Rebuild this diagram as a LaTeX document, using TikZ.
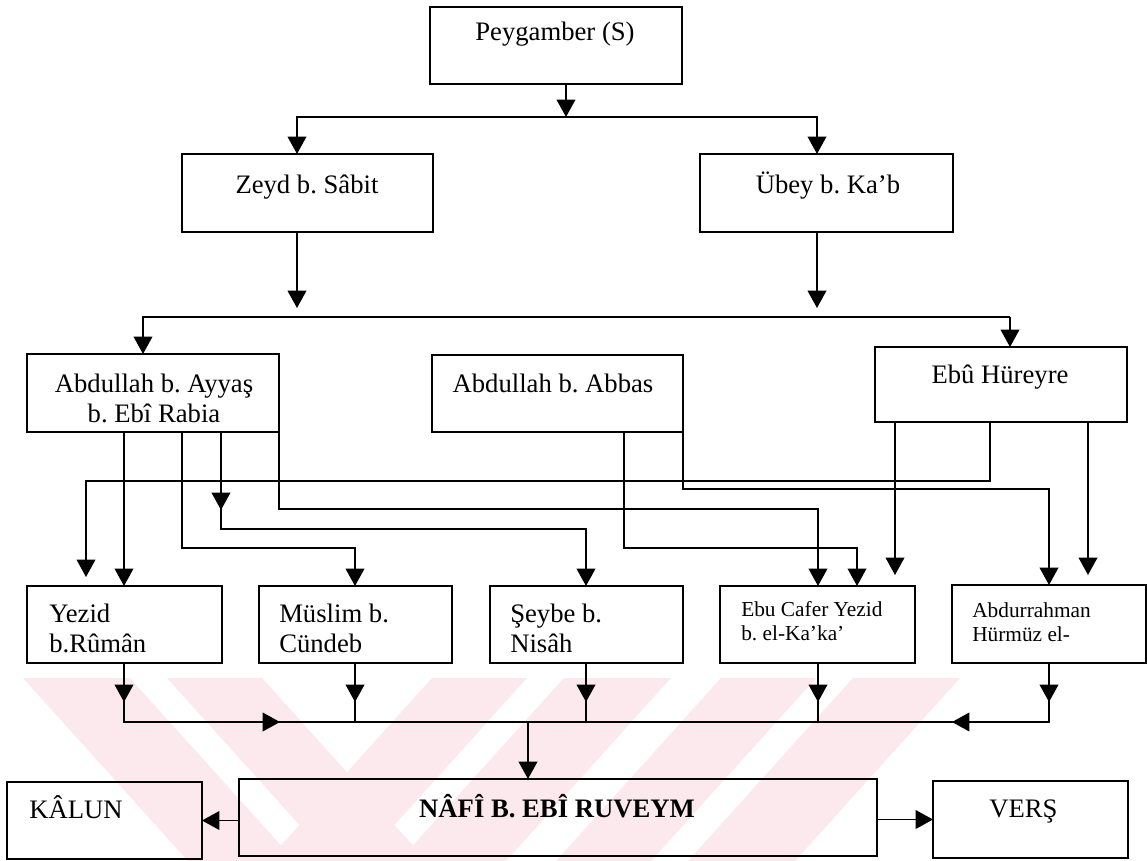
\documentclass[tikz,border=0pt]{standalone}
\usepackage{fontspec}
\setmainfont{Liberation Serif}
\usetikzlibrary{arrows.meta}
\definecolor{wmpink}{RGB}{252,233,237}
% box given by its corners (x1,y1) (x2,y2), in pixel units
\newcommand\placebox[5]{%
  \node[box, minimum width={(#4-#2)*0.75pt}, minimum height={(#5-#3)*0.75pt}]
    (#1) at ({(#2+#4)/2},{(#3+#5)/2}) {};}
\tikzset{
  box/.style={draw, line width=1.2pt, inner sep=0pt, outer sep=0pt},
  txt/.style={inner sep=0pt, font=\fontsize{20}{22.5}\selectfont},
  smalltxt/.style={inner sep=0pt, font=\fontsize{16}{18}\selectfont},
  link/.style={line width=1.2pt},
  arr/.style={link, -{Triangle[width=14pt,length=13pt]}},
}
\frenchspacing
\begin{document}
\begin{tikzpicture}[x=0.75pt,y=-0.75pt]
\useasboundingbox (0,0) rectangle (1147,861);

% faint watermark bands behind the lower part
\begin{scope}
  \clip (0,678) rectangle (1147,861);
  \foreach \a/\b in {23/130,167/262}
    \fill[wmpink] (\a,678) -- (\b,678) -- (\b+165,861) -- (\a+165,861) -- cycle;
  \foreach \a/\b in {432/527,564/671,721/816,853/960}
    \fill[wmpink] (\a,678) -- (\b,678) -- (\b-165,861) -- (\a-165,861) -- cycle;
\end{scope}

% boxes
\placebox{peyg}{430}{7}{682}{84}
\placebox{zeyd}{182}{154}{433}{232}
\placebox{uebey}{700}{154}{953}{232}
\placebox{ayyas}{27}{354}{279}{432}
\placebox{abbas}{432}{355}{683}{432}
\placebox{huer}{875}{347}{1127}{422}
\placebox{yezid}{27}{586}{222}{663}
\placebox{muslim}{259}{586}{452}{663}
\placebox{seybe}{490}{586}{683}{663}
\placebox{cafer}{720}{586}{915}{663}
\placebox{abdur}{952}{585}{1146}{663}
\placebox{kalun}{7}{782}{202}{859}
\placebox{nafi}{239}{779}{877}{856}
\placebox{vers}{933}{781}{1128}{858}

% texts (multi-line nodes are placed by the baseline of their last line)
\node[txt, anchor=base] (tpeyg) at (555,40) {Peygamber (S)};
\node[txt, anchor=base] (tzeyd) at (307,193) {Zeyd b. Sâbit};
\node[txt, anchor=base] (tuebey) at (828,193) {Übey b. Ka’b};
\node[txt, anchor=base, align=center] (tayyas) at (154,422) {Abdullah b. Ayyaş\\b. Ebî Rabia};
\node[txt, anchor=base] (tabbas) at (553,392) {Abdullah b. Abbas};
\node[txt, anchor=base] (thuer) at (1000,383) {Ebû Hüreyre};
\node[txt, anchor=base west, align=left] (tyezid) at (49,652) {Yezid\\b.Rûmân};
\node[txt, anchor=base west, align=left] (tmuslim) at (279,652) {Müslim b.\\Cündeb};
\node[txt, anchor=base west, align=left] (tseybe) at (510,652) {Şeybe b.\\Nisâh};
\node[smalltxt, anchor=base west, align=left] (tcafer) at (741,640) {Ebu Cafer Yezid\\b. el-Ka’ka’};
\node[smalltxt, anchor=base west, align=left] (tabdur) at (972,641) {Abdurrahman\\Hürmüz el-};
\node[txt, anchor=base west] (tkalun) at (29,818) {KÂLUN};
\node[txt, anchor=base, font=\fontsize{20}{24}\selectfont\bfseries] (tnafi) at (557,817) {NÂFÎ B. EBÎ RUVEYM};
\node[txt, anchor=base west] (tvers) at (989,817) {VERŞ};

% columns and rows used by the connectors
\coordinate (p1) at (566,117);
\coordinate (zc) at (297,0);
\coordinate (uc) at (817,0);
\coordinate (r308) at (0,308);
\coordinate (h2l) at (143,317);
\coordinate (h2r) at (1010,317);
\coordinate (a1) at (124,0);
\coordinate (a2) at (182,548);
\coordinate (a3) at (221,529);
\coordinate (a4) at (279,509);
\coordinate (r510) at (0,510);
\coordinate (b1) at (624,548);
\coordinate (b2) at (683,489);
\coordinate (c1) at (990,481);
\coordinate (mc) at (355,0);
\coordinate (sc) at (586,0);
\coordinate (ec1) at (818,0);
\coordinate (ec2) at (857,0);
\coordinate (ec3) at (895,0);
\coordinate (dc1) at (1049,0);
\coordinate (dc2) at (1088,0);
\coordinate (yc2) at (86,0);
\coordinate (r575) at (0,575);
\coordinate (r577) at (0,577);
\coordinate (r702) at (0,702);
\coordinate (q) at (0,722);
\coordinate (qa) at (280,722);
\coordinate (qb) at (952,722);
\coordinate (nc) at (528,722);

% Peygamber to Zeyd and Übey
\draw[arr] (peyg.south -| p1) -- (p1);
\draw[arr] (p1) -| (zeyd.north -| zc);
\draw[arr] (p1) -| (uebey.north -| uc);
\draw[arr] (zeyd.south -| zc) -- (zc |- r308);
\draw[arr] (uebey.south -| uc) -- (uc |- r308);
\draw[arr] (h2r) -- (h2l) -- (ayyas.north -| h2l);
\draw[arr] (h2r) -- (huer.north -| h2r);

% Abdullah b. Ayyaş
\draw[arr] (ayyas.south -| a1) -- (yezid.north -| a1);
\draw[arr] (ayyas.south -| a2) -- (a2) -| (muslim.north -| mc);
\draw[arr] (ayyas.south -| a3) -- (a3 |- r510);
\draw[arr] (ayyas.south -| a3) -- (a3) -| (seybe.north -| sc);
\draw[arr] (ayyas.south east) -- (a4) -| (cafer.north -| ec1);

% Abdullah b. Abbas
\draw[arr] (abbas.south -| b1) -- (b1) -| (cafer.north -| ec2);
\draw[arr] (abbas.south east) -- (b2) -| (abdur.north -| dc1);

% Ebû Hüreyre
\draw[arr] (huer.south -| ec3) -- (ec3 |- r575);
\draw[arr] (huer.south -| dc2) -- (dc2 |- r575);
\draw[arr] (huer.south -| c1) -- (c1) -| (yc2 |- r577);

% collector line into Nâfî
\draw[link] (yezid.south -| a1) -- (a1 |- q) -- (dc1 |- q) -- (abdur.south -| dc1);
\draw[link] (muslim.south -| mc) -- (mc |- q);
\draw[link] (seybe.south -| sc) -- (sc |- q);
\draw[link] (cafer.south -| ec1) -- (ec1 |- q);
\draw[arr] (yezid.south -| a1) -- (a1 |- r702);
\draw[arr] (muslim.south -| mc) -- (mc |- r702);
\draw[arr] (seybe.south -| sc) -- (sc |- r702);
\draw[arr] (cafer.south -| ec1) -- (ec1 |- r702);
\draw[arr] (abdur.south -| dc1) -- (dc1 |- r702);
\draw[arr] (a1 |- q) -- (qa);
\draw[arr] (dc1 |- q) -- (qb);
\draw[arr] (nc) -- (nafi.north -| nc);

% Nâfî to his two transmitters
\draw[arr] (nafi.west |- kalun.east) -- (kalun.east);
\draw[arr] (nafi.east |- vers.west) -- (vers.west);
\end{tikzpicture}
\end{document}
